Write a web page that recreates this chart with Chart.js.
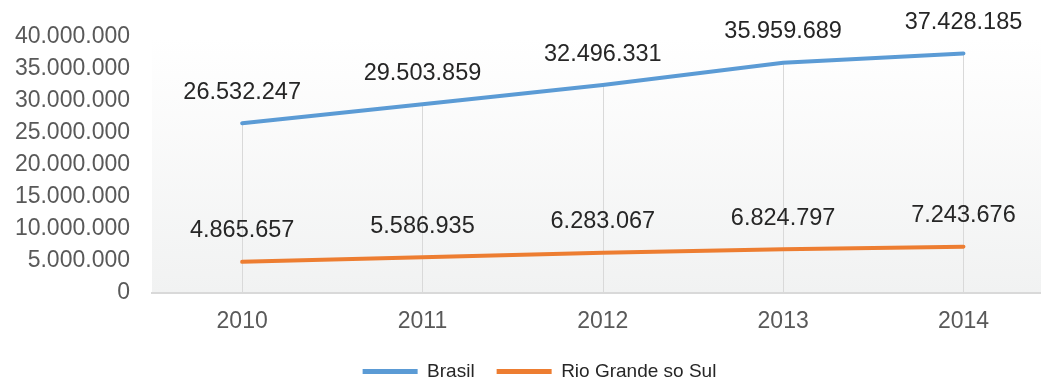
<!DOCTYPE html>
<html>
<head>
<meta charset="utf-8">
<script src="https://cdn.jsdelivr.net/npm/chart.js@4"></script>
<style>
  html, body { margin: 0; padding: 0; background: #fff; }
  #wrap { width: 1041px; height: 379px; }
</style>
</head>
<body>
<div id="wrap"><canvas id="myChart"></canvas></div>
<script>
const years = [2010, 2011, 2012, 2013, 2014];
const brasil = [26532247, 29503859, 32496331, 35959689, 37428185];
const rioGrande = [4865657, 5586935, 6283067, 6824797, 7243676];
const seriesNames = ['Brasil', 'Rio Grande so Sul'];
const seriesColors = ['#5b9bd5', '#ed7d31'];

const FONT = '"Liberation Sans", Arial, sans-serif';

// 26532247 -> "26.532.247"
function fmt(v) {
  return String(Math.round(v)).replace(/\B(?=(\d{3})+(?!\d))/g, '.');
}

// white -> light gray backdrop behind the plot
const plotBackground = {
  id: 'plotBackground',
  beforeDraw(chart) {
    const a = chart.chartArea, ctx = chart.ctx;
    const g = ctx.createLinearGradient(0, a.top, 0, a.bottom);
    g.addColorStop(0, '#ffffff');
    g.addColorStop(1, '#f1f2f2');
    ctx.save();
    ctx.fillStyle = g;
    ctx.fillRect(a.left, a.top, a.right - a.left, a.bottom - a.top);
    ctx.restore();
  }
};

// drop lines from the highest point of each year down to the axis
const dropLines = {
  id: 'dropLines',
  beforeDatasetsDraw(chart) {
    const ctx = chart.ctx, bottom = chart.chartArea.bottom;
    const metas = chart.data.datasets.map((d, i) => chart.getDatasetMeta(i));
    ctx.save();
    ctx.strokeStyle = '#d9d9d9';
    ctx.lineWidth = 1;
    metas[0].data.forEach((pt, i) => {
      const top = Math.min(...metas.map(m => m.data[i].y));
      const x = Math.round(pt.x) + 0.5;
      ctx.beginPath();
      ctx.moveTo(x, top);
      ctx.lineTo(x, bottom);
      ctx.stroke();
    });
    ctx.restore();
  }
};

// value labels above the points
const valueLabels = {
  id: 'valueLabels',
  afterDatasetsDraw(chart) {
    const ctx = chart.ctx;
    ctx.save();
    ctx.font = '23.5px ' + FONT;
    ctx.fillStyle = '#262626';
    ctx.textAlign = 'center';
    ctx.textBaseline = 'middle';
    chart.data.datasets.forEach((ds, di) => {
      chart.getDatasetMeta(di).data.forEach((pt, i) => {
        ctx.fillText(fmt(ds.data[i].y), pt.x, pt.y - 31);
      });
    });
    ctx.restore();
  }
};

// move the legend down and a bit to the right, like the original
const legendShift = {
  id: 'legendShift',
  afterLayout(chart) {
    const lg = chart.legend;
    lg.left += 19;
    lg.right += 19;
    lg.top += 12;
    lg.bottom += 12;
  }
};

new Chart('myChart', {
  type: 'line',
  data: {
    datasets: [
      {
        label: seriesNames[0],
        data: years.map((y, i) => ({ x: y, y: brasil[i] })),
        borderColor: seriesColors[0],
        backgroundColor: seriesColors[0]
      },
      {
        label: seriesNames[1],
        data: years.map((y, i) => ({ x: y, y: rioGrande[i] })),
        borderColor: seriesColors[1],
        backgroundColor: seriesColors[1]
      }
    ]
  },
  options: {
    responsive: true,
    maintainAspectRatio: false,
    animation: false,
    layout: { padding: { top: 37, left: 0, right: 0, bottom: 0 } },
    elements: {
      line: { borderWidth: 4, borderCapStyle: 'round', tension: 0 },
      point: { radius: 0, hoverRadius: 0 }
    },
    scales: {
      x: {
        type: 'linear',
        min: 2009.5,
        max: 2014.43,
        afterBuildTicks(scale) {
          scale.ticks = years.map(y => ({ value: y }));
        },
        afterFit(scale) { scale.height = 35; },
        grid: { display: false, drawTicks: false },
        border: { display: true, color: '#d9d9d9', width: 2 },
        ticks: {
          padding: 15,
          color: '#595959',
          font: { family: FONT, size: 23 },
          callback: v => String(v)
        }
      },
      y: {
        min: 0,
        max: 40000000,
        afterFit(scale) { scale.width = 152; },
        grid: { display: false, drawTicks: false },
        border: { display: false },
        ticks: {
          stepSize: 5000000,
          padding: 22,
          color: '#595959',
          font: { family: FONT, size: 23 },
          callback: v => fmt(v)
        }
      }
    },
    plugins: {
      tooltip: { enabled: false },
      legend: {
        position: 'bottom',
        labels: {
          boxWidth: 55,
          boxHeight: 5,
          padding: 22,
          color: '#262626',
          font: { family: FONT, size: 19 },
          useBorderRadius: true,
          borderRadius: 2.5,
          generateLabels(chart) {
            return chart.data.datasets.map((ds, i) => ({
              text: ds.label,
              fillStyle: ds.borderColor,
              strokeStyle: ds.borderColor,
              lineWidth: 0,
              fontColor: '#262626',
              datasetIndex: i
            }));
          }
        }
      }
    }
  },
  plugins: [plotBackground, dropLines, valueLabels, legendShift]
});
</script>
</body>
</html>
